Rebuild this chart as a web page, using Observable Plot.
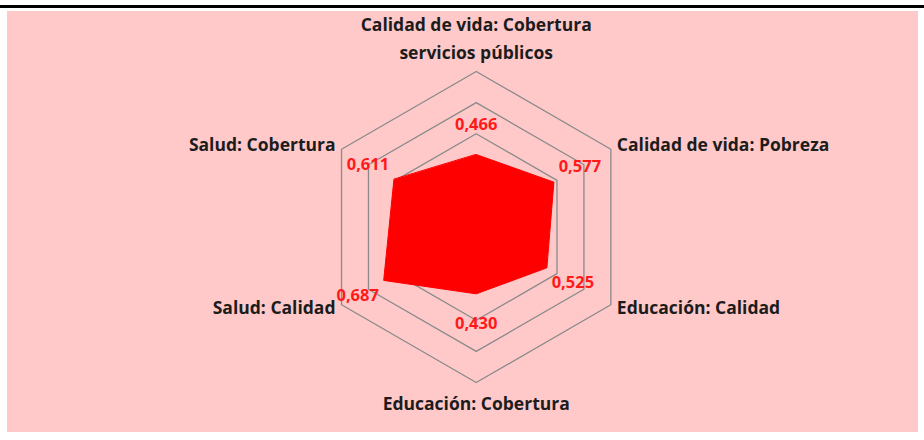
<!DOCTYPE html>
<html>
<head>
<meta charset="utf-8">
<script src="https://cdn.jsdelivr.net/npm/d3@7"></script>
<script src="https://cdn.jsdelivr.net/npm/@observablehq/plot@0.6"></script>
<style>
  body { margin: 0; background: #ffffff; }
  #wrap { position: relative; width: 924px; height: 440px; overflow: hidden; }
  #topline { position: absolute; left: 0; top: 5px; width: 924px; height: 3px; background: #000; }
  #panel { position: absolute; left: 7px; top: 11px; width: 911px; height: 421px; background: #ffc9c9; }
  #chart { position: absolute; left: 0; top: 0; }
</style>
</head>
<body>
<div id="wrap">
  <div id="topline"></div>
  <div id="panel"></div>
  <div id="chart"></div>
</div>
<script>
// ---- data ----
const categories = [
  "Calidad de vida: Cobertura\nservicios públicos",
  "Calidad de vida: Pobreza",
  "Educación: Calidad",
  "Educación: Cobertura",
  "Salud: Calidad",
  "Salud: Cobertura"
];
const values = [0.466, 0.577, 0.525, 0.430, 0.687, 0.611];
const valueLabels = ["0,466", "0,577", "0,525", "0,430", "0,687", "0,611"];
const gridLevels = [0.2, 0.4, 0.6, 0.8, 1.0];

// ---- layout ----
const W = 924, H = 440;
const CX = 475.7, CY = 226.5, K = 155.5; // px per unit
const n = categories.length;
const ang = i => (i * 2 * Math.PI) / n; // clockwise from top
const px = (r, i) => r * Math.sin(ang(i));
const py = (r, i) => r * Math.cos(ang(i));

const ringData = gridLevels.flatMap(level =>
  categories.map((c, i) => ({level, x: px(level, i), y: py(level, i)}))
);
const polyData = values.map((v, i) => ({x: px(v, i), y: py(v, i)}));
const LOFF = 30 / K;
const valueData = values.map((v, i) => ({x: px(v + LOFF, i), y: py(v + LOFF, i), t: valueLabels[i]}));
const catData = categories.map((c, i) => ({i, x: px(1, i), y: py(1, i), t: c}));

const font = "'Open Sans', Lato, sans-serif";
const catStyle = {x: "x", y: "y", text: "t", fill: "#1c1c1c", fontWeight: "bold", fontSize: 17.5};

const chart = Plot.plot({
  width: W,
  height: H,
  marginTop: 0, marginRight: 0, marginBottom: 0, marginLeft: 0,
  x: {domain: [-CX / K, (W - CX) / K], axis: null},
  y: {domain: [-(H - CY) / K, CY / K], axis: null},
  style: {background: "transparent", fontFamily: font, overflow: "visible"},
  marks: [
    Plot.line(ringData, {x: "x", y: "y", z: "level", curve: "linear-closed", stroke: "#8a8a8a", strokeWidth: 1.3}),
    Plot.line(polyData, {x: "x", y: "y", curve: "linear-closed", fill: "#ff0000", stroke: "#ff0000", strokeWidth: 1}),
    Plot.text(valueData, {x: "x", y: "y", text: "t", fill: "#ff1a1a", fontWeight: "bold", fontSize: 16.5}),
    // top
    Plot.text(catData.filter(d => d.i === 0), {...catStyle, textAnchor: "middle", lineHeight: 1.6, dy: -35}),
    // bottom
    Plot.text(catData.filter(d => d.i === 3), {...catStyle, textAnchor: "middle", dy: 22}),
    // right upper / lower
    Plot.text(catData.filter(d => d.i === 1), {...catStyle, textAnchor: "start", dx: 6, dy: -4}),
    Plot.text(catData.filter(d => d.i === 2), {...catStyle, textAnchor: "start", dx: 6, dy: 4}),
    // left lower / upper
    Plot.text(catData.filter(d => d.i === 4), {...catStyle, textAnchor: "end", dx: -6, dy: 4}),
    Plot.text(catData.filter(d => d.i === 5), {...catStyle, textAnchor: "end", dx: -6, dy: -4})
  ]
});
document.getElementById("chart").appendChild(chart);
</script>
</body>
</html>
